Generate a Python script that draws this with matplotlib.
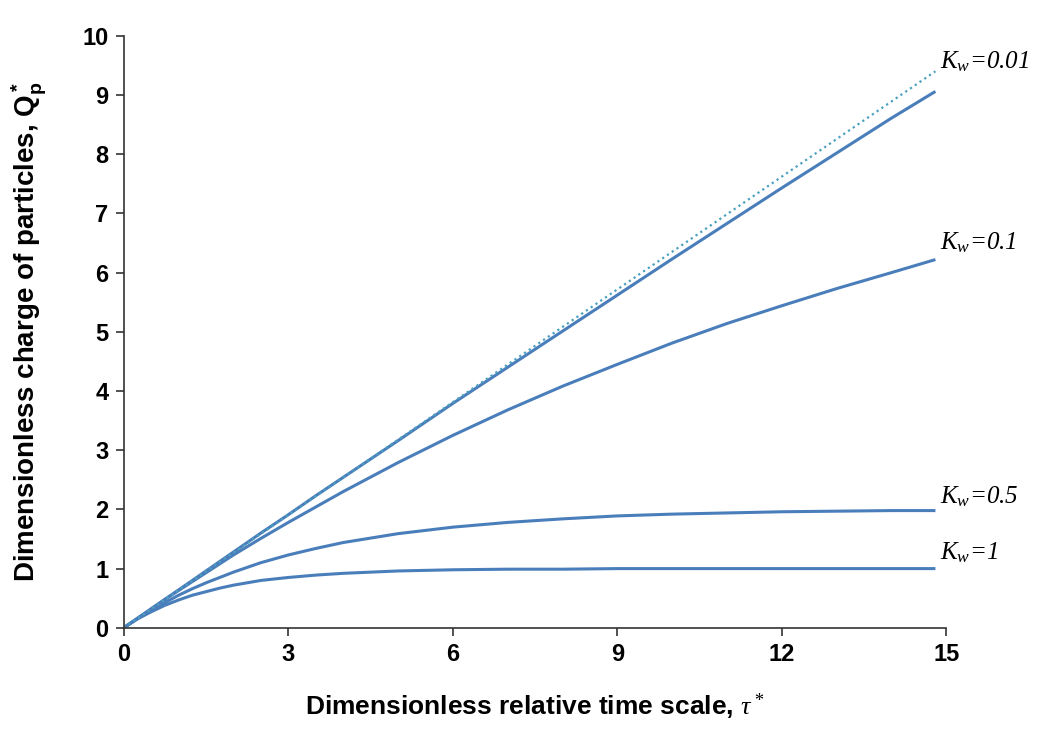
import numpy as np
import matplotlib
matplotlib.use("Agg")
import matplotlib.pyplot as plt

plt.rcParams['font.family'] = ['Liberation Sans', 'DejaVu Sans']
plt.rcParams['mathtext.fontset'] = 'custom'
plt.rcParams['mathtext.rm'] = 'Liberation Serif:italic'
plt.rcParams['mathtext.it'] = 'Liberation Serif:italic'
plt.rcParams['mathtext.bf'] = 'Liberation Sans:bold'

# values
tau = [0, 0.25, 0.5, 0.75, 1, 1.25, 1.5, 1.75, 2, 2.5, 3, 3.5, 4, 5, 6, 7, 8,
       9, 10, 11, 12, 13, 14, 14.8]
q_k001 = [0, 0.16, 0.32, 0.48, 0.64, 0.80, 0.96, 1.12, 1.28, 1.60, 1.91, 2.23,
          2.54, 3.16, 3.79, 4.40, 5.01, 5.62, 6.23, 6.83, 7.43, 8.02, 8.61,
          9.06]
q_k01 = [0, 0.16, 0.32, 0.48, 0.63, 0.78, 0.93, 1.08, 1.23, 1.51, 1.78, 2.04,
         2.30, 2.79, 3.25, 3.68, 4.08, 4.45, 4.81, 5.14, 5.44, 5.73, 6.00, 6.22]
q_k05 = [0, 0.155, 0.30, 0.425, 0.55, 0.66, 0.76, 0.85, 0.94, 1.10, 1.23, 1.34,
         1.44, 1.59, 1.70, 1.78, 1.84, 1.89, 1.92, 1.94, 1.96, 1.97, 1.98, 1.98]
q_k1 = [0, 0.15, 0.27, 0.38, 0.47, 0.55, 0.61, 0.67, 0.72, 0.80, 0.85, 0.89,
        0.92, 0.96, 0.98, 0.99, 0.99, 1.0, 1.0, 1.0, 1.0, 1.0, 1.0, 1.0]
tau_lin = [0, 14.8]
q_lin = [0, 9.4]

labels = [r'$K_w$=0.01', r'$K_w$=0.1', r'$K_w$=0.5', r'$K_w$=1']
label_y = [9.56, 6.5, 2.21, 1.27]

blue = '#4a7ebb'
teal = '#4aa0bf'

fig = plt.figure(figsize=(10.4, 7.3), dpi=100)
ax = fig.add_axes([0.119, 0.140, 0.791, 0.811])

for q in [q_k1, q_k05, q_k01, q_k001]:
    ax.plot(tau, q, color=blue, lw=2.2, solid_capstyle='butt')
ax.plot(tau_lin, q_lin, color=teal, lw=1.6, linestyle=(0, (1, 1.6)))

for lab, y in zip(labels, label_y):
    ax.text(14.88, y, lab, fontsize=18, va='center', ha='left',
            family='Liberation Serif', style='italic')

ax.set_xlim(0, 15)
ax.set_ylim(0, 10)
ax.set_xticks([0, 3, 6, 9, 12, 15])
ax.set_yticks(range(0, 11))
for s in ['top', 'right']:
    ax.spines[s].set_visible(False)
for s in ['left', 'bottom']:
    ax.spines[s].set_color('#333333')
    ax.spines[s].set_linewidth(1.2)
ax.tick_params(direction='out', length=6, width=1.2, color='#333333',
               labelsize=17, pad=5)
for t in ax.get_xticklabels() + ax.get_yticklabels():
    t.set_fontweight('bold')

ax.set_xlabel(r'Dimensionless relative time scale, $\tau^*$', fontsize=19,
              fontweight='bold', labelpad=18)
ax.set_ylabel(r'Dimensionless charge of particles, $\mathbf{Q_p^*}$',
              fontsize=20, fontweight='bold', labelpad=24)

fig.savefig('out.png', dpi=100)
